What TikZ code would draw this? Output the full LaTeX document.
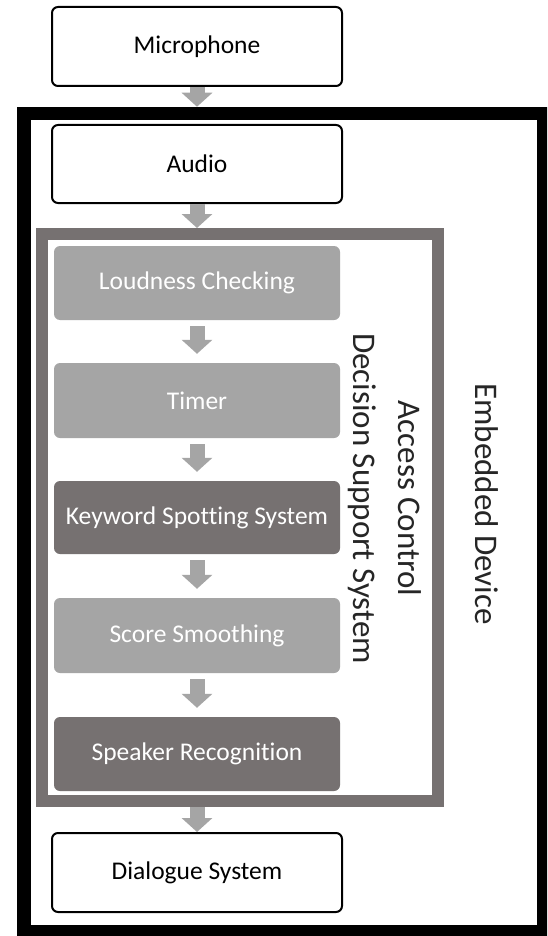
\documentclass[tikz,border=0pt]{standalone}
\usepackage{fontspec}
\setmainfont{Carlito}[Ligatures={NoCommon}]
\usetikzlibrary{arrows.meta}
\definecolor{lightbox}{HTML}{A5A5A5}
\definecolor{darkbox}{HTML}{767171}
\definecolor{arrowgray}{HTML}{A5A5A5}
\definecolor{labeltext}{HTML}{262626}
\tikzset{
  whitebox/.style={draw=black, line width=2pt, fill=white, rounded corners=6pt,
    minimum width=290pt, minimum height=79pt, inner sep=0pt,
    font=\fontsize{25.5}{30}\selectfont, text=black},
  lightstep/.style={fill=lightbox, rounded corners=6pt,
    minimum width=286pt, minimum height=74pt, inner sep=0pt,
    font=\fontsize{25.5}{30}\selectfont, text=white},
  darkstep/.style={lightstep, fill=darkbox},
  flowarrow/.style={draw=arrowgray, line width=15pt,
    -{Triangle[width=30pt,length=14pt]}, arrowgray},
  sidelabel/.style={rotate=-90, align=center, text=labeltext,
    font=\fontsize{33}{45}\selectfont, inner sep=0pt}
}
\begin{document}
\begin{tikzpicture}[x=1pt,y=-1pt]
\useasboundingbox (0,0) rectangle (547,936);
\clip (0,0) rectangle (547,936);
\fill[white] (0,0) rectangle (547,936);
% outer frame
\node[draw=black, line width=13.5pt, minimum width=520pt, minimum height=818.5pt, inner sep=0pt] (emb) at (284,522.75) {};
% inner frame
\node[draw=darkbox, line width=12pt, minimum width=395.5pt, minimum height=567pt, inner sep=0pt] (acdss) at (239.75,517.5) {};
% boxes
\node[whitebox] (mic) at (197,46.5) {Microphone};
\node[whitebox, minimum height=78pt] (audio) at (197,164) {Audio};
\node[lightstep] (loud) at (197,283) {Loudness Checking};
\node[lightstep, minimum height=75pt] (timer) at (197,400.5) {Timer};
\node[darkstep, minimum height=73pt] (kws) at (197,517.5) {Keyword Spotting System};
\node[lightstep, minimum height=75pt] (score) at (197,635.5) {Score Smoothing};
\node[darkstep] (spk) at (197,754) {Speaker Recognition};
\node[whitebox] (dlg) at (197,872.5) {Dialogue System};
% labels
\node[sidelabel] (acl) at (384.5,498.5) {Access Control\\Decision Support System};
\node[sidelabel] (embl) at (487,504) {Embedded Device};
% arrows
\draw[flowarrow] (mic.south) -- (mic.south |- emb.north);
\draw[flowarrow] (audio.south) -- (audio.south |- acdss.north);
\draw[flowarrow, shorten <=6pt, shorten >=9pt] (loud.south) -- (timer.north);
\draw[flowarrow, shorten <=6pt, shorten >=9pt] (timer.south) -- (kws.north);
\draw[flowarrow, shorten <=6pt, shorten >=9pt] (kws.south) -- (score.north);
\draw[flowarrow, shorten <=6pt, shorten >=9pt] (score.south) -- (spk.north);
\draw[flowarrow] (spk.south |- acdss.south) -- (dlg.north);
\end{tikzpicture}
\end{document}
